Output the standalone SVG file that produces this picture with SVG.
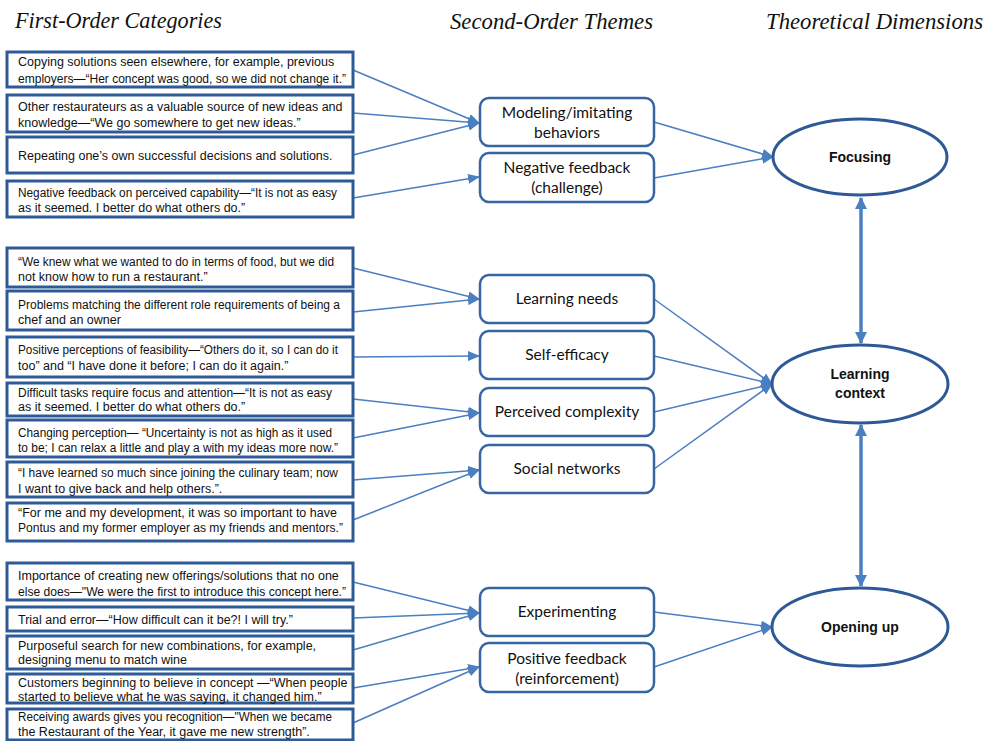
<svg xmlns="http://www.w3.org/2000/svg" width="990" height="741" viewBox="0 0 990 741">
<defs>
<style>
.hdr{font-family:"Liberation Serif",serif;font-style:italic;font-size:23px;fill:#111}
.lb{fill:#fff;stroke:#2e5b97;stroke-width:3}
.lt{font-family:"Liberation Sans",Arial,sans-serif;font-size:12.5px;fill:#111}
.tb{fill:#fff;stroke:#3565a3;stroke-width:2.5}
.tt{font-family:Lato,"Liberation Sans",sans-serif;font-size:15.5px;fill:#111;text-anchor:middle}
.el{fill:#fff;stroke:#2d5a96;stroke-width:3}
.et{font-family:"Liberation Sans",Arial,sans-serif;font-size:14px;font-weight:bold;fill:#111;text-anchor:middle}
.cn{fill:none;stroke:#4a7fc1;stroke-width:1.5;marker-end:url(#ah)}
.vc{fill:none;stroke:#4a7fc1;stroke-width:3.5;marker-end:url(#ahb);marker-start:url(#ahbs)}
</style>
<marker id="ah" markerUnits="userSpaceOnUse" markerWidth="12" markerHeight="10" refX="11" refY="5" orient="auto"><path d="M0,0 L12,5 L0,10 z" fill="#4a7fc1"/></marker>
<marker id="ahb" markerUnits="userSpaceOnUse" markerWidth="12" markerHeight="12" refX="11" refY="6" orient="auto"><path d="M0,0 L12,6 L0,12 z" fill="#4a7fc1"/></marker>
<marker id="ahbs" markerUnits="userSpaceOnUse" markerWidth="12" markerHeight="12" refX="1" refY="6" orient="auto"><path d="M12,0 L0,6 L12,12 z" fill="#4a7fc1"/></marker>
</defs>
<rect width="990" height="741" fill="#fff"/>

<g id="headers">
<text class="hdr" x="15" y="28" textLength="207" lengthAdjust="spacingAndGlyphs">First-Order Categories</text>
<text class="hdr" x="450" y="29" textLength="203" lengthAdjust="spacingAndGlyphs">Second-Order Themes</text>
<text class="hdr" x="766" y="29" textLength="217" lengthAdjust="spacingAndGlyphs">Theoretical Dimensions</text>
</g>

<g id="connectors">
<path class="cn" d="M353,70 L479,123"/>
<path class="cn" d="M353,113 L479,123"/>
<path class="cn" d="M353,155 L479,123"/>
<path class="cn" d="M353,198 L479,177"/>
<path class="cn" d="M654,122 L773,157"/>
<path class="cn" d="M654,178 L773,157"/>
<path class="cn" d="M353,268 L479,299"/>
<path class="cn" d="M353,312 L479,299"/>
<path class="cn" d="M353,357 L479,356"/>
<path class="cn" d="M353,399 L479,413"/>
<path class="cn" d="M353,438 L479,413"/>
<path class="cn" d="M353,480 L479,470"/>
<path class="cn" d="M353,520 L479,470"/>
<path class="cn" d="M654,299 L772,384"/>
<path class="cn" d="M654,356 L772,384"/>
<path class="cn" d="M654,412 L772,384"/>
<path class="cn" d="M654,469 L772,384"/>
<path class="cn" d="M353,582 L479,613"/>
<path class="cn" d="M353,618 L479,613"/>
<path class="cn" d="M353,650 L479,613"/>
<path class="cn" d="M353,688 L479,667"/>
<path class="cn" d="M353,723 L479,667"/>
<path class="cn" d="M654,612 L772,627"/>
<path class="cn" d="M654,667 L772,627"/>
<path class="vc" d="M861,198 L861,343"/>
<path class="vc" d="M861,425 L861,586"/>
</g>

<g id="fo1"><rect class="lb" x="7" y="52" width="346" height="35"/><text class="lt"><tspan x="18" y="66">Copying  solutions seen elsewhere, for example, previous</tspan><tspan x="18" y="83" textLength="328" lengthAdjust="spacingAndGlyphs">employers—“Her concept was good, so we did not change it.”</tspan></text></g>
<g id="fo2"><rect class="lb" x="7" y="95" width="346" height="37"/><text class="lt"><tspan x="18" y="111">Other restaurateurs as a valuable source of new ideas and</tspan><tspan x="18" y="127">knowledge—“We go somewhere to get new ideas.”</tspan></text></g>
<g id="fo3"><rect class="lb" x="7" y="137" width="346" height="36"/><text class="lt"><tspan x="18" y="160">Repeating one’s own successful decisions and solutions.</tspan></text></g>
<g id="fo4"><rect class="lb" x="7" y="181" width="346" height="36"/><text class="lt"><tspan x="18" y="197" textLength="319" lengthAdjust="spacingAndGlyphs">Negative feedback on perceived capability—“It is not as easy</tspan><tspan x="18" y="212">as it seemed. I better do what others do.”</tspan></text></g>
<g id="fo5"><rect class="lb" x="7" y="248" width="346" height="39"/><text class="lt"><tspan x="18" y="266" textLength="316" lengthAdjust="spacingAndGlyphs">“We knew what we wanted to do in terms of food, but we did</tspan><tspan x="18" y="281">not know how to run a restaurant.”</tspan></text></g>
<g id="fo6"><rect class="lb" x="7" y="291" width="346" height="39"/><text class="lt"><tspan x="18" y="309" textLength="322" lengthAdjust="spacingAndGlyphs">Problems matching the different role requirements of being a</tspan><tspan x="18" y="324">chef and an owner</tspan></text></g>
<g id="fo7"><rect class="lb" x="7" y="337" width="346" height="40"/><text class="lt"><tspan x="18" y="354" textLength="320" lengthAdjust="spacingAndGlyphs">Positive perceptions of feasibility—“Others do it, so I can do it</tspan><tspan x="18" y="370">too”  and “I have done it before; I can do it again.”</tspan></text></g>
<g id="fo8"><rect class="lb" x="7" y="383" width="346" height="33"/><text class="lt"><tspan x="18" y="397" textLength="314" lengthAdjust="spacingAndGlyphs">Difficult tasks require focus and attention—“It is not as easy</tspan><tspan x="18" y="411">as it seemed. I better do what others do.”</tspan></text></g>
<g id="fo9"><rect class="lb" x="7" y="420" width="346" height="37"/><text class="lt"><tspan x="18" y="437" textLength="314" lengthAdjust="spacingAndGlyphs">Changing perception— “Uncertainty is not as high as it used</tspan><tspan x="18" y="452" textLength="320" lengthAdjust="spacingAndGlyphs">to be; I can relax a little and play a with my ideas more now.”</tspan></text></g>
<g id="fo10"><rect class="lb" x="7" y="462" width="346" height="35"/><text class="lt"><tspan x="18" y="477" textLength="320" lengthAdjust="spacingAndGlyphs">“I have learned so much since joining the culinary team; now</tspan><tspan x="18" y="493">I want to give back and help others.”.</tspan></text></g>
<g id="fo11"><rect class="lb" x="7" y="503" width="346" height="38"/><text class="lt"><tspan x="18" y="517">“For me and my development, it was so important to have</tspan><tspan x="18" y="532" textLength="325" lengthAdjust="spacingAndGlyphs">Pontus and my former employer as my friends and mentors.”</tspan></text></g>
<g id="fo12"><rect class="lb" x="7" y="563" width="346" height="37"/><text class="lt"><tspan x="18" y="580">Importance of creating new offerings/solutions that no one</tspan><tspan x="18" y="596" textLength="328" lengthAdjust="spacingAndGlyphs">else does—"We were the first to introduce this concept here.”</tspan></text></g>
<g id="fo13"><rect class="lb" x="7" y="607" width="346" height="24"/><text class="lt"><tspan x="18" y="624">Trial and error—“How difficult can it be?! I will try.”</tspan></text></g>
<g id="fo14"><rect class="lb" x="7" y="636" width="346" height="33"/><text class="lt"><tspan x="18" y="650">Purposeful search for new combinations, for example,</tspan><tspan x="18" y="664">designing menu to match wine</tspan></text></g>
<g id="fo15"><rect class="lb" x="7" y="674" width="346" height="29"/><text class="lt"><tspan x="18" y="687">Customers beginning to believe in concept —“When people</tspan><tspan x="18" y="701">started to believe what he was saying, it changed him.”</tspan></text></g>
<g id="fo16"><rect class="lb" x="7" y="709" width="346" height="31"/><text class="lt"><tspan x="18" y="721" textLength="314" lengthAdjust="spacingAndGlyphs">Receiving awards gives you recognition—"When we became</tspan><tspan x="18" y="736">the Restaurant of the Year, it gave me new strength”.</tspan></text></g>

<g id="t1"><rect class="tb" x="480" y="98" width="174" height="48" rx="9"/><text class="tt"><tspan x="567" y="118">Modeling/imitating</tspan><tspan x="567" y="138">behaviors</tspan></text></g>
<g id="t2"><rect class="tb" x="480" y="153" width="174" height="49" rx="9"/><text class="tt"><tspan x="567" y="173">Negative feedback</tspan><tspan x="567" y="193">(challenge)</tspan></text></g>
<g id="t3"><rect class="tb" x="480" y="275" width="174" height="48" rx="9"/><text class="tt" x="567" y="304">Learning needs</text></g>
<g id="t4"><rect class="tb" x="480" y="331" width="174" height="48" rx="9"/><text class="tt" x="567" y="360">Self-efficacy</text></g>
<g id="t5"><rect class="tb" x="480" y="388" width="174" height="48" rx="9"/><text class="tt" x="567" y="417">Perceived complexity</text></g>
<g id="t6"><rect class="tb" x="480" y="445" width="174" height="48" rx="9"/><text class="tt" x="567" y="474">Social networks</text></g>
<g id="t7"><rect class="tb" x="480" y="588" width="174" height="48" rx="9"/><text class="tt" x="567" y="617">Experimenting</text></g>
<g id="t8"><rect class="tb" x="480" y="643" width="174" height="49" rx="9"/><text class="tt"><tspan x="567" y="664">Positive feedback</tspan><tspan x="567" y="684">(reinforcement)</tspan></text></g>

<g id="d1"><ellipse class="el" cx="860" cy="157" rx="87" ry="38"/><text class="et" x="860" y="162">Focusing</text></g>
<g id="d2"><ellipse class="el" cx="860" cy="384" rx="88" ry="39"/><text class="et"><tspan x="860" y="379">Learning</tspan><tspan x="860" y="398">context</tspan></text></g>
<g id="d3"><ellipse class="el" cx="860" cy="627" rx="88" ry="39"/><text class="et" x="860" y="632">Opening up</text></g>
</svg>
